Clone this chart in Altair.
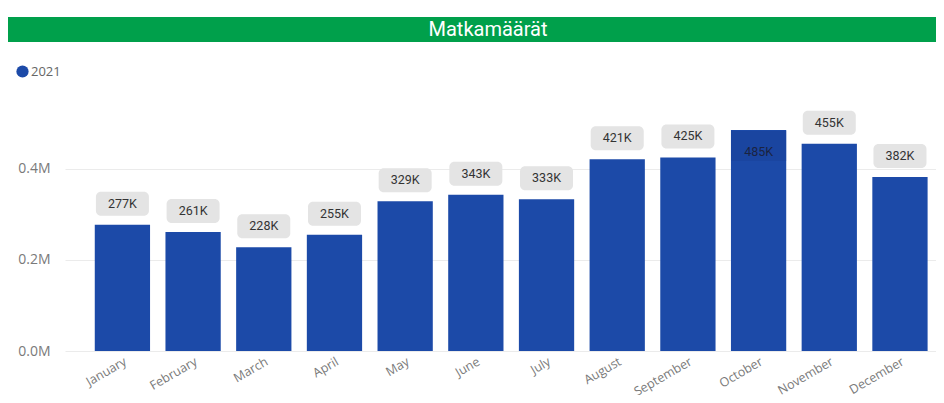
import altair as alt
import pandas as pd

months = ["January", "February", "March", "April", "May", "June", "July",
          "August", "September", "October", "November", "December"]
values = [277000, 261000, 228000, 255000, 329000, 343000, 333000,
          421000, 425000, 485000, 455000, 382000]
series_name = "2021"
title_text = "Matkamäärät"
y_ticks = [0, 200000, 400000]
y_max = 551000

df = pd.DataFrame({"month": months, "value": values, "year": [series_name] * len(months)})

W, H = 871, 251
BAR = "#1c4aa8"

x_enc = alt.X(
    "month:N", sort=months,
    scale=alt.Scale(paddingInner=0.218, paddingOuter=0.27, align=0.78),
    axis=alt.Axis(title=None, labelAngle=330, labelAlign="right", labelBaseline="top",
                  labelPadding=4, ticks=False, domain=False, labelColor="#7a7a7a",
                  labelFontSize=12.5, labelFont="Open Sans", grid=False),
)
y_enc = alt.Y(
    "value:Q", scale=alt.Scale(domain=[0, y_max], nice=False),
    axis=alt.Axis(title=None, values=y_ticks, labelExpr="format(datum.value/1000000, '.1f') + 'M'",
                  ticks=False, domain=False, labelColor="#7a7a7a", labelFontSize=14,
                  labelFont="Open Sans", labelPadding=15, gridColor="#ebebeb", gridWidth=1),
)

base = alt.Chart(df).transform_calculate(
    inside=f"datum.value / {y_max} > 0.85",
    lbl="format(datum.value/1000, 'd') + 'K'",
)

bars = base.mark_bar(color=BAR).encode(
    x=x_enc, y=y_enc,
    color=alt.Color("year:N", scale=alt.Scale(range=[BAR]),
                    legend=alt.Legend(title=None, orient="none", legendX=-49, legendY=-35,
                                      symbolType="circle", symbolSize=150, symbolStrokeWidth=0,
                                      labelFontSize=13, labelColor="#666666", labelFont="Open Sans",
                                      labelOffset=2, padding=0)),
)

box_out = base.transform_filter("!datum.inside").mark_tick(
    color="#e4e4e4", thickness=24, size=53, yOffset=-21, cornerRadius=5, opacity=1
).encode(x=alt.X("month:N", sort=months), y="value:Q")

text_out = base.transform_filter("!datum.inside").mark_text(
    yOffset=-21, fontSize=12.5, color="#333333", font="Roboto", baseline="middle"
).encode(x=alt.X("month:N", sort=months), y="value:Q", text="lbl:N")

box_in = base.transform_filter("datum.inside").mark_tick(
    color="#1a45a0", thickness=30, size=55, yOffset=16, opacity=1
).encode(x=alt.X("month:N", sort=months), y="value:Q")

text_in = base.transform_filter("datum.inside").mark_text(
    yOffset=22, fontSize=12.5, color="#1b2340", font="Roboto", baseline="middle"
).encode(x=alt.X("month:N", sort=months), y="value:Q", text="lbl:N")

title_bar = alt.Chart(pd.DataFrame({"t": [title_text]})).mark_rect(color="#00a04b").encode(
    x=alt.value(-57), x2=alt.value(W), y=alt.value(-83), y2=alt.value(-58)
)
title_txt = alt.Chart(pd.DataFrame({"t": [title_text]})).mark_text(
    color="white", fontSize=20, font="Roboto", baseline="middle", align="center"
).encode(x=alt.value(423), y=alt.value(-70), text="t:N")

chart = alt.layer(title_bar, title_txt, bars, box_out, text_out, box_in, text_in).properties(
    width=W, height=H,
    padding={"left": 57, "top": 92, "right": 0, "bottom": 44},
    autosize=alt.AutoSizeParams(type="none"),
).configure_view(stroke=None).resolve_scale(x="shared")

chart.save("out.html", embed_options={"renderer": "svg", "actions": False})
